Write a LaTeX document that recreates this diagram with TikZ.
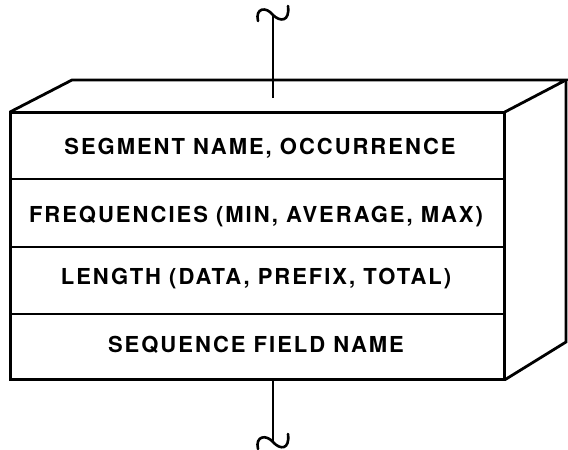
\documentclass[tikz,border=0pt]{standalone}
\usepackage{fontspec}
\setmainfont{TeX Gyre Heros}[LetterSpace=9]
\begin{document}
\begin{tikzpicture}[x=1pt,y=-1pt,line join=miter]
\tikzset{
  outer/.style={line width=2.8pt},
  divider/.style={line width=1.8pt},
  link/.style={line width=1.8pt},
  lbl/.style={font=\fontsize{22}{25}\selectfont\bfseries, inner sep=0pt, anchor=center},
  rowbox/.style={draw, line width=1.8pt, minimum width=493pt, inner sep=0pt, anchor=north west}
}
\useasboundingbox (0,0) rectangle (568,450);
% rows
\node[rowbox, minimum height=66pt] (r1) at (10,112) {};
\node[rowbox, minimum height=68pt] (r2) at (10,178) {};
\node[rowbox, minimum height=67pt] (r3) at (10,246) {};
\node[rowbox, minimum height=65pt] (r4) at (10,313) {};
% outer front face
\draw[outer] (r1.north west) rectangle (r4.south east);
% top face
\draw[outer] (r1.north west) -- (72,80) coordinate (tl) -- (566,80) coordinate (tr) -- (r1.north east);
% right face
\draw[outer] (tr) -- (566,342) coordinate (br) -- (r4.south east);
% labels
\node[lbl] (t1) at (260,148) {SEGMENT NAME, OCCURRENCE};
\node[lbl] (t2) at (256,217) {FREQUENCIES (MIN, AVERAGE, MAX)};
\node[lbl] (t3) at (256,279) {LENGTH (DATA, PREFIX, TOTAL)};
\node[lbl] (t4) at (256,345) {SEQUENCE FIELD NAME};
% connectors
\coordinate (topin) at (273,98);
\coordinate (topend) at (273,15);
\coordinate (botin) at (273,378);
\coordinate (botend) at (273,442);
\draw[link] (topin) -- (topend);
\draw[link, line width=2.6pt, line cap=round] (258,21) .. controls (255,8) and (266,6) .. (topend) .. controls (280,22) and (290,22) .. (288,6);
\draw[link] (botin) -- (botend);
\draw[link, line width=2.6pt, line cap=round] (258,449) .. controls (255,436) and (266,434) .. (botend) .. controls (280,450) and (290,450) .. (288,434);
\end{tikzpicture}
\end{document}
